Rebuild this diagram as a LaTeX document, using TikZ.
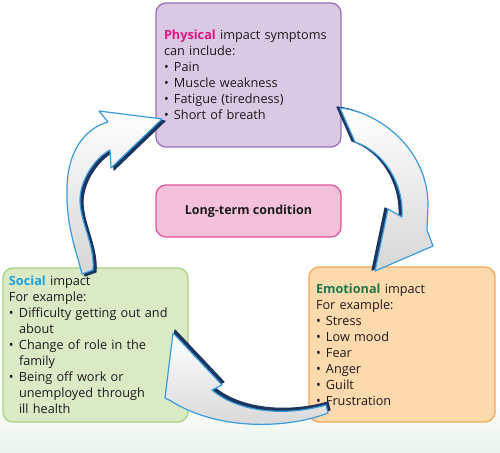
\documentclass[tikz,border=0pt]{standalone}
\usepackage{fontspec}
\setmainfont{Open Sans}
\definecolor{txt}{HTML}{1E1A1B}
\definecolor{physfill}{HTML}{D9C9E5}
\definecolor{physline}{HTML}{9A70B8}
\definecolor{physword}{HTML}{E0167F}
\definecolor{ltfill}{HTML}{F3C1DA}
\definecolor{ltline}{HTML}{E2559E}
\definecolor{socfill}{HTML}{D9EAC5}
\definecolor{socline}{HTML}{A8D281}
\definecolor{socword}{HTML}{1EA0DB}
\definecolor{emofill}{HTML}{FDD9AE}
\definecolor{emoline}{HTML}{F4A85B}
\definecolor{emoword}{HTML}{1B7A49}
\definecolor{arrblue}{HTML}{3A9BDC}
\definecolor{arrnavy}{HTML}{1B355F}
\definecolor{bggreen}{HTML}{E9F4EC}
\newcommand{\bl}{\makebox[10pt][l]{•}}
\newcommand{\ind}{\hspace*{10pt}}
\begin{document}
\begin{tikzpicture}[x=1pt,y=-1pt,
  box/.style={draw, line width=1.3pt, rounded corners=10pt, align=left,
    text=txt, inner ysep=2pt, font=\fontsize{12.7}{16}\selectfont},
  arrface/.style={draw=arrblue, line width=1.2pt, line join=round,
    top color=white, bottom color=black!16},
  arrside/.style={fill=arrnavy, draw=arrnavy, line width=1.2pt, line join=round}]
\useasboundingbox (0,0) rectangle (500,452);
\shade[top color=white, bottom color=bggreen] (0,395) rectangle (500,452);

\node[box, fill=physfill, draw=physline, text width=169pt, inner xsep=8pt,
  minimum height=144pt] (phys) at (248.5,75)
  {{\color{physword}\bfseries Physical} impact symptoms\\ can include:\\ \bl Pain\\
   \bl Muscle weakness\\ \bl Fatigue (tiredness)\\ \bl Short of breath\\[-4pt]};

\node[box, fill=ltfill, draw=ltline, minimum width=185pt, minimum height=52pt,
  align=center, font=\fontsize{12.5}{16}\selectfont\bfseries] (ltc) at (248.5,211)
  {Long-term condition};

\node[box, fill=socfill, draw=socline, text width=173pt, inner xsep=6pt,
  minimum height=154pt] (soc) at (95.5,345)
  {{\color{socword}\bfseries Social} impact\\ For example:\\ \bl Difficulty getting out and\\
   \ind about\\ \bl Change of role in the\\ \ind family\\ \bl Being off work or\\
   \ind unemployed through\\ \ind ill health};

\node[box, fill=emofill, draw=emoline, text width=172pt, inner xsep=7pt,
  minimum height=155pt] (emo) at (402,344.5)
  {{\color{emoword}\bfseries Emotional} impact\\ For example:\\ \bl Stress\\ \bl Low mood\\
   \bl Fear\\ \bl Anger\\ \bl Guilt\\ \bl Frustration\\[-4pt]};

% arrow: social -> physical
\def\arrA{(162,119) -- (99,111) -- (108,122) .. controls (86,128) and (67,150) .. (67,190)
  .. controls (66,225) and (76,250) .. (82,274) -- (93,270)
  .. controls (95,245) and (80,222) .. (80,200) .. controls (80,180) and (95,158) .. (110,150)
  -- (111,168) -- cycle}
\path[arrside, shift={(3,2)}] \arrA;
\path[arrface] \arrA;

% arrow: physical -> emotional
\def\arrB{(340,108) .. controls (380,112) and (428,150) .. (428,205) -- (427,230)
  -- (433,246) -- (375,271) -- (388,209) -- (402,217)
  .. controls (404,185) and (385,152) .. (355,142) -- cycle}
\path[arrside, shift={(-3,-1)}] \arrB;
\path[arrface] \arrB;

% arrow: emotional -> social
\def\arrC{(173,333) -- (222,385) -- (212,390) .. controls (235,410) and (280,418) .. (326,405)
  -- (328,413) .. controls (290,428) and (220,432) .. (171,401) -- (165,398) -- cycle}
\path[arrside, shift={(2,-3)}] \arrC;
\path[arrface] \arrC;
\end{tikzpicture}
\end{document}
